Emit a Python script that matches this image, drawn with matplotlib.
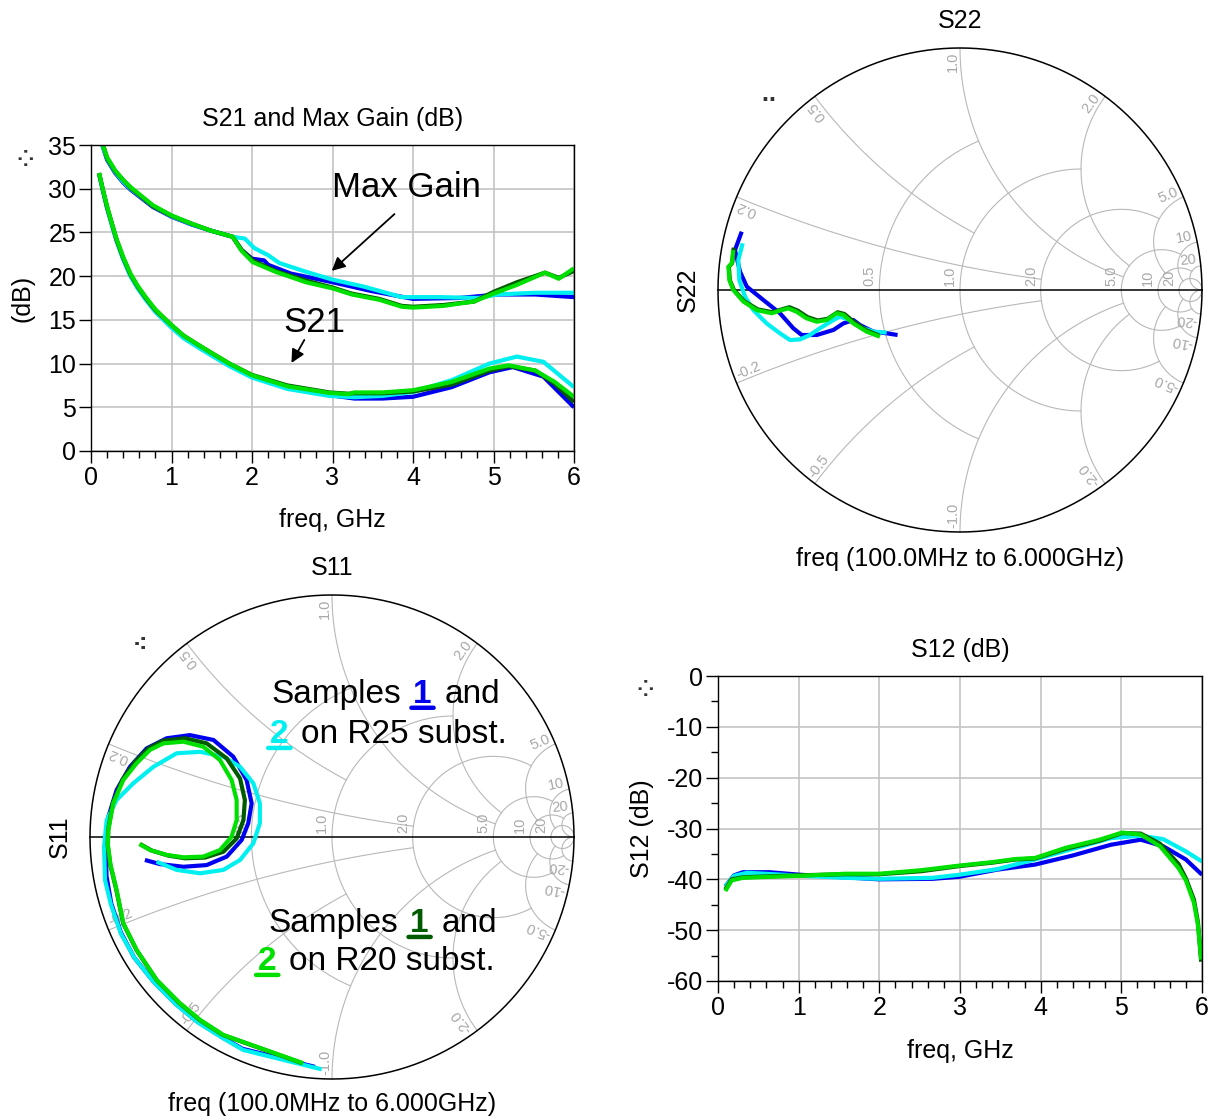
import numpy as np
import matplotlib.pyplot as plt
from matplotlib.ticker import MultipleLocator

plt.rcParams['font.family'] = ['Liberation Sans', 'DejaVu Sans']
plt.rcParams['axes.unicode_minus'] = False

W, H = 1213, 1120

BLUE = '#0000f0'      # sample 1, R25
CYAN = '#00f0f0'      # sample 2, R25
DKGREEN = '#005a00'   # sample 1, R20
GREEN = '#00e000'     # sample 2, R20
GRID = '#c4c4c4'
SGRID = '#b8b8b8'
FS = 18

# ---------------- S21 and Max Gain (dB) ----------------
mg_b_f = [0.14, 0.2, 0.3, 0.4, 0.49, 0.77, 1.0, 1.25, 1.49, 1.76, 1.87, 2.0, 2.15, 2.2, 2.48, 3.0, 3.48, 4.0, 4.57, 5.05, 5.52, 6.0]
mg_b = [35.0, 33.3, 31.8, 30.7, 29.9, 27.9, 26.8, 25.9, 25.2, 24.5, 23.0, 22.0, 21.8, 21.3, 20.3, 19.3, 18.3, 17.4, 17.5, 17.9, 17.9, 17.6]
mg_c_f = [0.14, 0.2, 0.3, 0.4, 0.49, 0.77, 1.0, 1.25, 1.49, 1.76, 1.91, 2.03, 2.2, 2.34, 2.67, 3.0, 3.39, 3.86, 4.34, 4.81, 5.05, 5.52, 6.0]
mg_c = [35.0, 33.4, 31.9, 30.8, 30.0, 28.0, 26.85, 25.95, 25.2, 24.5, 24.3, 23.2, 22.4, 21.5, 20.5, 19.6, 18.8, 17.6, 17.6, 17.5, 17.9, 18.1, 18.1]
mg_d_f = [0.14, 0.2, 0.3, 0.4, 0.49, 0.77, 1.0, 1.25, 1.49, 1.76, 1.87, 2.01, 2.29, 2.67, 3.0, 3.24, 3.58, 3.86, 4.0, 4.38, 4.76, 5.0, 5.29, 5.64, 5.81, 6.0]
mg_d = [35.3, 33.5, 32.0, 31.0, 30.1, 28.0, 26.9, 26.0, 25.2, 24.5, 23.0, 21.8, 20.6, 19.5, 18.7, 18.0, 17.4, 16.6, 16.5, 16.7, 17.1, 18.2, 19.3, 20.4, 19.8, 20.6]
mg_g_f = [0.14, 0.2, 0.3, 0.4, 0.49, 0.77, 1.0, 1.25, 1.49, 1.76, 1.87, 2.01, 2.29, 2.67, 3.0, 3.24, 3.58, 3.86, 4.0, 4.38, 4.76, 5.0, 5.29, 5.64, 5.81, 6.0]
mg_g = [35.2, 33.6, 32.1, 31.0, 30.2, 28.1, 26.95, 26.0, 25.2, 24.5, 22.9, 21.6, 20.5, 19.3, 18.6, 17.9, 17.3, 16.5, 16.4, 16.6, 17.1, 18.0, 19.0, 20.4, 19.7, 20.9]

s21_f = [0.1, 0.15, 0.2, 0.26, 0.32, 0.4, 0.49, 0.58, 0.68, 0.8, 1.0, 1.15, 1.34, 1.5, 1.72, 2.0, 2.44, 2.96]
s21_head_b = [31.7, 29.7, 27.8, 25.9, 24.0, 22.0, 20.1, 18.7, 17.4, 16.0, 14.2, 13.0, 11.9, 11.0, 9.8, 8.5, 7.2, 6.4]
s21_head_c = [31.7, 29.7, 27.8, 25.8, 24.0, 21.9, 20.0, 18.6, 17.3, 15.9, 14.1, 12.9, 11.8, 10.9, 9.7, 8.4, 7.1, 6.3]
s21_head_d = [31.8, 29.8, 27.9, 26.0, 24.1, 22.1, 20.2, 18.8, 17.5, 16.1, 14.4, 13.2, 12.1, 11.2, 10.0, 8.7, 7.5, 6.7]
s21_head_g = [31.8, 29.8, 28.0, 26.0, 24.2, 22.2, 20.3, 18.9, 17.6, 16.2, 14.4, 13.2, 12.1, 11.2, 10.0, 8.66, 7.4, 6.64]
s21_tail_b_f = [3.27, 3.62, 4.0, 4.48, 4.95, 5.24, 5.62, 6.0]
s21_tail_b = [6.0, 6.0, 6.2, 7.3, 9.0, 9.6, 8.5, 5.0]
s21_tail_c_f = [3.27, 3.62, 4.0, 4.48, 4.95, 5.29, 5.62, 6.0]
s21_tail_c = [6.15, 6.3, 6.75, 8.1, 10.0, 10.8, 10.2, 7.3]
s21_tail_d_f = [3.2, 3.27, 3.62, 4.0, 4.48, 4.95, 5.19, 5.52, 5.76, 6.0]
s21_tail_d = [6.55, 6.6, 6.6, 6.8, 7.6, 9.2, 9.7, 9.2, 7.7, 5.6]
s21_tail_g_f = [3.2, 3.27, 3.62, 4.0, 4.48, 4.95, 5.19, 5.52, 5.76, 6.0]
s21_tail_g = [6.5, 6.7, 6.7, 6.95, 7.9, 9.43, 9.8, 9.2, 7.9, 6.2]

# ---------------- S12 (dB) ----------------
s12_b_f = [0.09, 0.2, 0.31, 0.64, 1.02, 2.0, 2.66, 2.99, 3.46, 3.93, 4.4, 4.87, 5.24, 5.52, 5.8, 6.0]
s12_b = [-41.4, -39.2, -38.6, -38.6, -39.1, -40.0, -39.9, -39.5, -38.1, -37.1, -35.3, -33.2, -32.2, -33.5, -36.1, -39.1]
s12_c_f = [0.09, 0.2, 0.36, 1.02, 1.58, 2.0, 2.66, 2.99, 3.46, 3.93, 4.4, 4.87, 5.24, 5.52, 5.8, 6.0]
s12_c = [-41.4, -39.3, -38.7, -39.3, -39.7, -39.9, -39.7, -39.1, -38.0, -36.1, -34.0, -31.9, -31.4, -32.1, -34.5, -36.5]
s12_d_f = [0.09, 0.17, 0.31, 0.64, 1.02, 1.58, 2.0, 2.52, 2.99, 3.41, 3.69, 3.93, 4.31, 4.73, 5.01, 5.24, 5.48, 5.71, 5.8, 5.9, 5.95, 5.99]
s12_d = [-42.0, -40.0, -39.6, -39.4, -39.2, -39.0, -39.0, -38.4, -37.4, -36.7, -36.1, -35.9, -34.0, -32.4, -30.9, -31.0, -33.0, -37.0, -39.8, -44.0, -48.5, -56.2]
s12_g_f = [0.09, 0.17, 0.31, 0.64, 1.02, 1.58, 2.0, 2.52, 2.99, 3.41, 3.69, 3.93, 4.31, 4.73, 5.01, 5.24, 5.48, 5.71, 5.8, 5.9, 5.95, 5.99]
s12_g = [-42.3, -40.2, -39.7, -39.5, -39.3, -38.9, -38.9, -38.2, -37.3, -36.6, -36.0, -35.8, -33.8, -32.2, -30.8, -31.2, -33.5, -37.8, -40.2, -44.6, -49.0, -55.8]

# ---------------- S22 (reflection coefficient) ----------------
s22_b_re = [-0.902, -0.930, -0.909, -0.881, -0.813, -0.744, -0.689, -0.654, -0.592, -0.523, -0.482, -0.441, -0.413, -0.358, -0.303, -0.258]
s22_b_im = [0.241, 0.165, 0.076, 0.014, -0.041, -0.096, -0.158, -0.186, -0.186, -0.165, -0.138, -0.124, -0.145, -0.172, -0.179, -0.186]
s22_c_re = [-0.898, -0.916, -0.912, -0.888, -0.854, -0.799, -0.744, -0.702, -0.661, -0.620, -0.579, -0.523, -0.496, -0.455, -0.400, -0.358, -0.303]
s22_c_im = [0.193, 0.124, 0.041, -0.028, -0.083, -0.138, -0.179, -0.207, -0.204, -0.186, -0.158, -0.124, -0.110, -0.124, -0.158, -0.172, -0.176]
s22_d_re = [-0.935, -0.941, -0.955, -0.951, -0.934, -0.892, -0.836, -0.775, -0.733, -0.705, -0.671, -0.630, -0.588, -0.547, -0.506, -0.478, -0.437, -0.384, -0.334]
s22_d_im = [0.175, 0.112, 0.096, 0.040, 0.0, -0.046, -0.080, -0.092, -0.079, -0.071, -0.085, -0.112, -0.126, -0.119, -0.092, -0.099, -0.133, -0.168, -0.188]
s22_g_re = [-0.937, -0.943, -0.957, -0.953, -0.937, -0.895, -0.840, -0.778, -0.737, -0.709, -0.675, -0.634, -0.592, -0.551, -0.510, -0.482, -0.441, -0.386, -0.331]
s22_g_im = [0.165, 0.110, 0.096, 0.041, 0.0, -0.048, -0.083, -0.096, -0.083, -0.076, -0.090, -0.117, -0.131, -0.124, -0.096, -0.103, -0.138, -0.172, -0.193]

# ---------------- S11 (reflection coefficient) ----------------
s11_b_re = [-0.773, -0.711, -0.614, -0.518, -0.435, -0.373, -0.346, -0.332, -0.353, -0.408, -0.490, -0.587, -0.683, -0.766, -0.835, -0.890, -0.924, -0.934, -0.932, -0.912, -0.872, -0.818, -0.738, -0.643, -0.558, -0.458, -0.370, -0.070]
s11_b_im = [-0.095, -0.112, -0.123, -0.116, -0.081, -0.012, 0.057, 0.139, 0.236, 0.332, 0.401, 0.421, 0.408, 0.366, 0.290, 0.194, 0.084, -0.040, -0.160, -0.275, -0.395, -0.497, -0.597, -0.692, -0.762, -0.825, -0.875, -0.950]
s11_c_re = [-0.725, -0.642, -0.545, -0.449, -0.380, -0.325, -0.298, -0.298, -0.325, -0.380, -0.449, -0.545, -0.642, -0.738, -0.821, -0.890, -0.931, -0.942, -0.938, -0.913, -0.872, -0.816, -0.736, -0.641, -0.556, -0.456, -0.367, -0.043]
s11_c_im = [-0.102, -0.136, -0.150, -0.136, -0.095, -0.026, 0.057, 0.139, 0.222, 0.290, 0.332, 0.352, 0.346, 0.290, 0.222, 0.153, 0.070, -0.040, -0.178, -0.281, -0.400, -0.500, -0.600, -0.695, -0.765, -0.828, -0.880, -0.960]
s11_d_re = [-0.793, -0.745, -0.676, -0.607, -0.525, -0.449, -0.394, -0.366, -0.360, -0.380, -0.435, -0.518, -0.607, -0.697, -0.759, -0.814, -0.866, -0.906, -0.925, -0.927, -0.916, -0.891, -0.863, -0.808, -0.725, -0.630, -0.547, -0.451, -0.122]
s11_d_im = [-0.029, -0.056, -0.077, -0.088, -0.085, -0.061, -0.006, 0.070, 0.153, 0.242, 0.325, 0.387, 0.408, 0.398, 0.366, 0.311, 0.236, 0.139, 0.029, -0.033, -0.116, -0.219, -0.357, -0.467, -0.591, -0.687, -0.756, -0.818, -0.935]
s11_g_re = [-0.796, -0.752, -0.683, -0.614, -0.532, -0.463, -0.415, -0.394, -0.394, -0.415, -0.463, -0.532, -0.614, -0.697, -0.752, -0.807, -0.862, -0.904, -0.924, -0.926, -0.915, -0.890, -0.862, -0.807, -0.724, -0.628, -0.545, -0.449, -0.119]
s11_g_im = [-0.029, -0.054, -0.074, -0.084, -0.081, -0.054, 0.001, 0.070, 0.153, 0.236, 0.318, 0.373, 0.394, 0.387, 0.360, 0.305, 0.236, 0.139, 0.029, -0.033, -0.116, -0.219, -0.357, -0.467, -0.591, -0.687, -0.756, -0.818, -0.935]

# Smith grid: (value, truncation)
R_CIRCLES = [(0.5, 1.0), (1.0, 2.0), (2.0, 5.0), (5.0, 10.0), (10.0, 20.0), (20.0, np.inf)]
X_ARCS = [(0.2, 2.0), (0.5, 1.0), (1.0, 5.0), (2.0, 5.0), (5.0, 10.0), (10.0, 20.0), (20.0, np.inf)]
R_LABELS = ['0.5', '1.0', '2.0', '5.0', '10', '20']
X_LABELS = ['0.2', '0.5', '1.0', '2.0', '5.0', '10', '20']


def gamma(z):
    return (z - 1) / (z + 1)


def smith_grid(ax):
    t = np.linspace(0, 2 * np.pi, 721)
    ax.plot(np.cos(t), np.sin(t), color='black', lw=1.1, zorder=2)
    ax.plot([-1, 1], [0, 0], color='black', lw=1.1, zorder=2)
    for (r, xmax), lab in zip(R_CIRCLES, R_LABELS):
        a = np.arctan(xmax)
        xs = np.tan(np.linspace(-a, a, 801))
        g = gamma(r + 1j * xs)
        ax.plot(g.real, g.imag, color=SGRID, lw=0.8, zorder=1)
        g0 = (r - 1) / (r + 1)
        ax.text(g0 - 0.012, 0.015, lab, rotation=90, rotation_mode='anchor',
                ha='left', va='bottom', fontsize=10.5, color='#a8a8a8')
    for (x, rmax), lab in zip(X_ARCS, X_LABELS):
        b = np.arctan(rmax)
        rs = np.tan(np.linspace(0, b, 600))
        for s in (1, -1):
            g = gamma(rs + 1j * s * x)
            ax.plot(g.real, g.imag, color=SGRID, lw=0.8, zorder=1)
            p = gamma(1j * s * x)
            if s > 0:
                rot = np.degrees(np.arctan2(p.imag, p.real))
                ax.text(0.985 * p.real, 0.985 * p.imag, lab, rotation=rot,
                        rotation_mode='anchor', ha='right', va='bottom',
                        fontsize=10.5, color='#a8a8a8')
            else:
                rot = np.degrees(np.arctan2(-p.imag, -p.real))
                ax.text(0.985 * p.real, 0.985 * p.imag, '-' + lab, rotation=rot,
                        rotation_mode='anchor', ha='left', va='bottom',
                        fontsize=10.5, color='#a8a8a8')
    ax.set_xlim(-1.02, 1.02)
    ax.set_ylim(-1.02, 1.02)
    ax.set_xticks([])
    ax.set_yticks([])
    for sp in ax.spines.values():
        sp.set_visible(False)


def rect_style(ax):
    ax.grid(True, which='major', color=GRID, lw=1.2)
    ax.tick_params(which='major', direction='out', length=8.6, width=1,
                   labelsize=FS, pad=2, top=False, right=False)
    ax.tick_params(which='minor', direction='out', length=5, width=1,
                   top=False, right=False)
    ax.xaxis.set_major_locator(MultipleLocator(1))
    ax.xaxis.set_minor_locator(MultipleLocator(0.2))
    ax.set_xlim(0, 6)
    for sp in ax.spines.values():
        sp.set_linewidth(1.0)


def colored_text(ax, x, y, parts, size=24):
    prev = None
    for s, col, ul in parts:
        weight = 'bold' if ul else 'normal'
        if prev is None:
            t = ax.text(x, y, s, color=col, fontsize=size, ha='left', va='baseline',
                        fontweight=weight)
        else:
            t = ax.annotate(s, xy=(1, 0), xycoords=prev, xytext=(9.0, 0),
                            textcoords='offset points', color=col, fontsize=size,
                            ha='left', va='bottom', fontweight=weight)
        if ul:
            ax.annotate('', xy=(-0.1, 0.07), xycoords=t, xytext=(1.1, 0.07),
                        textcoords=t,
                        arrowprops=dict(arrowstyle='-', color=col, lw=3.2,
                                        shrinkA=0, shrinkB=0))
        prev = t


fig = plt.figure(figsize=(W / 100, H / 100), dpi=100)
half = 242 * 1.02

# ---- top-left ----
ax1 = fig.add_axes([91 / W, 1 - 451 / H, 483 / W, 306 / H])
rect_style(ax1)
ax1.set_ylim(0, 35)
ax1.yaxis.set_major_locator(MultipleLocator(5))
for f, v, c in [(mg_b_f, mg_b, BLUE), (mg_c_f, mg_c, CYAN), (mg_d_f, mg_d, DKGREEN), (mg_g_f, mg_g, GREEN)]:
    ax1.plot(f, v, color=c, lw=3, solid_capstyle='butt')
for hv, tf, tv, c in [(s21_head_b, s21_tail_b_f, s21_tail_b, BLUE),
                      (s21_head_c, s21_tail_c_f, s21_tail_c, CYAN),
                      (s21_head_d, s21_tail_d_f, s21_tail_d, DKGREEN),
                      (s21_head_g, s21_tail_g_f, s21_tail_g, GREEN)]:
    ax1.plot(s21_f + tf, hv + tv, color=c, lw=3, solid_capstyle='butt')
ax1.set_title('S21 and Max Gain (dB)', fontsize=FS, pad=13.5)
ax1.set_xlabel('freq, GHz', fontsize=FS)
ax1.xaxis.set_label_coords(0.5, -0.185)
ax1.set_ylabel('(dB)', fontsize=FS)
ax1.yaxis.set_label_coords(-0.118, 0.5)
ax1.text(3.0, 29.05, 'Max Gain', fontsize=25, ha='left', va='baseline')
ax1.annotate('', xy=(2.99, 20.6), xytext=(3.77, 27.1),
             arrowprops=dict(arrowstyle='-|>', color='black', lw=1.3, mutation_scale=20,
                             shrinkA=0, shrinkB=0))
ax1.text(2.39, 13.6, 'S21', fontsize=25, ha='left', va='baseline')
ax1.annotate('', xy=(2.49, 10.07), xytext=(2.65, 12.7),
             arrowprops=dict(arrowstyle='-|>', color='black', lw=1.3, mutation_scale=20,
                             shrinkA=0, shrinkB=0))

# ---- bottom-right ----
ax4 = fig.add_axes([718 / W, 1 - 981 / H, 484 / W, 305 / H])
rect_style(ax4)
ax4.set_ylim(-60, 0)
ax4.yaxis.set_major_locator(MultipleLocator(10))
ax4.yaxis.set_minor_locator(MultipleLocator(5))
for f, v, c in [(s12_b_f, s12_b, BLUE), (s12_c_f, s12_c, CYAN), (s12_d_f, s12_d, DKGREEN), (s12_g_f, s12_g, GREEN)]:
    ax4.plot(f, v, color=c, lw=3, solid_capstyle='butt')
ax4.set_title('S12 (dB)', fontsize=FS, pad=13.5)
ax4.set_xlabel('freq, GHz', fontsize=FS)
ax4.xaxis.set_label_coords(0.5, -0.19)
ax4.set_ylabel('S12 (dB)', fontsize=FS)
ax4.yaxis.set_label_coords(-0.132, 0.5)

# ---- top-right: S22 ----
ax2 = fig.add_axes([(960 - half) / W, 1 - (290 + half) / H, 2 * half / W, 2 * half / H])
smith_grid(ax2)
for re, im, c in [(s22_b_re, s22_b_im, BLUE), (s22_c_re, s22_c_im, CYAN),
                  (s22_d_re, s22_d_im, DKGREEN), (s22_g_re, s22_g_im, GREEN)]:
    ax2.plot(re, im, color=c, lw=3, zorder=3, solid_capstyle='butt')
ax2.set_title('S22', fontsize=FS, pad=10.6)
ax2.set_xlabel('freq (100.0MHz to 6.000GHz)', fontsize=FS)
ax2.xaxis.set_label_coords(0.5, -0.021)
ax2.set_ylabel('S22', fontsize=FS)
ax2.yaxis.set_label_coords(-0.027, 0.5)

# ---- bottom-left: S11 ----
ax3 = fig.add_axes([(332 - half) / W, 1 - (837 + half) / H, 2 * half / W, 2 * half / H])
smith_grid(ax3)
for re, im, c in [(s11_b_re, s11_b_im, BLUE), (s11_c_re, s11_c_im, CYAN),
                  (s11_d_re, s11_d_im, DKGREEN), (s11_g_re, s11_g_im, GREEN)]:
    ax3.plot(re, im, color=c, lw=3, zorder=3, solid_capstyle='butt')
ax3.set_title('S11', fontsize=FS, pad=10.6)
ax3.set_xlabel('freq (100.0MHz to 6.000GHz)', fontsize=FS)
ax3.xaxis.set_label_coords(0.5, -0.017)
ax3.set_ylabel('S11', fontsize=FS)
ax3.yaxis.set_label_coords(-0.027, 0.5)

colored_text(ax3, -0.252, 0.554, [('Samples', 'black', False), ('1', BLUE, True), ('and', 'black', False)])
colored_text(ax3, -0.256, 0.388, [('2', CYAN, True), ('on R25 subst.', 'black', False)])
colored_text(ax3, -0.264, -0.393, [('Samples', 'black', False), ('1', DKGREEN, True), ('and', 'black', False)])
colored_text(ax3, -0.306, -0.550, [('2', GREEN, True), ('on R20 subst.', 'black', False)])

# small marker glyphs in the plot corners
for px, py, g in [(25, 160, '\u2058'), (768, 95, '\u2025'), (140, 645, '\u2056'), (645, 690, '\u2058')]:
    fig.text(px / W, 1 - py / H, g, fontsize=15, fontweight='bold', color='#333333',
             ha='center', va='center', family=['DejaVu Sans'])

fig.savefig('out.png', dpi=100)
